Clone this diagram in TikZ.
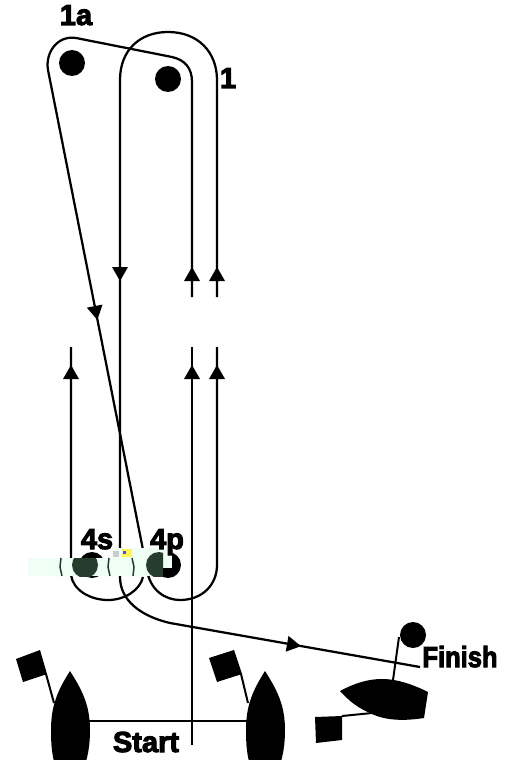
\documentclass[tikz,border=0pt]{standalone}
\usepackage{fontspec}
\setmainfont{Liberation Sans}
\newfontfamily\heavyfont[FakeBold=3.5]{Liberation Sans Bold}
\definecolor{panelmint}{HTML}{EFFFF6}
\definecolor{buoygreen}{HTML}{263D2D}
\tikzset{
	course/.style={line width=0.45mm, black},
	rig/.style={line width=0.4mm, black},
	buoy/.style={circle, fill=black, inner sep=0pt, minimum size=0.52cm},
	tag/.style={font=\fontsize{16.5}{16.5}\heavyfont, inner sep=0pt, text=black, anchor=base}
}
\begin{document}
\begin{tikzpicture}[x=0.02cm, y=-0.02cm]
				\useasboundingbox (0,0) rectangle (514,760);
				% buoys
				\node[buoy] (buoyA) at (72,63) {};
				\node[buoy] (buoyB) at (168,79) {};
				\node[buoy] (buoyS) at (92,565) {};
				\node[buoy] (buoyP) at (168,565) {};
				\node[buoy] (buoyF) at (413,635) {};
				% legs of the course
				\coordinate (finishEnd) at (420,667);
				\draw[course] (217,297) -- (217,80) .. controls (217,52) and (198,32) .. (168,32) .. controls (140,32) and (120,50) .. (120,80) -- (120,577) .. controls (120,600) and (140,616) .. (170,623) -- (finishEnd);
				\draw[course] (192,297) -- (192,82) .. controls (192,68) and (185,60) .. (172,57) -- (76,38) .. controls (58,35) and (45,52) .. (48,70) -- (147,570) .. controls (150,590) and (165,600) .. (180,600) .. controls (202,600) and (217,585) .. (217,565) -- (217,347);
				\draw[course] (71,347) -- (71,575) .. controls (73,590) and (90,600) .. (108,600) .. controls (125,600) and (140,590) .. (143,577);
				\draw[course] (192,347) -- (192,745);
				% arrows
				\foreach \px/\py/\rot in {192/274/0, 217/274/0, 71/372/0, 192/372/0, 217/372/0, 120/274/180, 96/313/191, 294/645/-100} {
					\fill[rotate around={\rot:(\px,\py)}] (\px,\py-7) -- (\px+8,\py+7) -- (\px-8,\py+7) -- cycle;
				}
				% strip over the marks
				\fill[panelmint] (28,558) rectangle (172,576);
				\fill[panelmint] (112,548) rectangle (172,558);
				\begin{scope}
					\clip (28,558) rectangle (172,576);
					\fill[buoygreen] (85,565) circle (13);
				\end{scope}
				\begin{scope}
					\clip (140,548) rectangle (163,576);
					\fill[buoygreen] (159,565) circle (13);
				\end{scope}
				\begin{scope}
					\clip (163,568) rectangle (172,576);
					\fill[black] (168,565) circle (13);
				\end{scope}
				\draw[buoygreen, line width=0.3mm] (61,558) -- (60,567) -- (62,576) (109,558) -- (108,567) -- (110,576) (132,558) -- (134,567) -- (133,576);
				\fill[gray!40] (113,551) rectangle (119,557);
				\fill[yellow!70] (122,549) rectangle (132,557);
				\fill[blue!70] (123,551) rectangle (126,554);
				% start boats
				\begin{scope}
					\coordinate (startL) at (88,721);
					\coordinate (startR) at (248,721);
					\draw[rig] (startL) -- (startR);
					\fill (70,671) .. controls (82,690) and (90,705) .. (90,730) .. controls (90,745) and (88,755) .. (85,765) -- (55,765) .. controls (52,755) and (51,745) .. (51,730) .. controls (51,705) and (58,690) .. (70,671) -- cycle;
					\fill (265,671) .. controls (277,690) and (285,705) .. (285,730) .. controls (285,745) and (283,755) .. (280,765) -- (250,765) .. controls (247,755) and (246,745) .. (246,730) .. controls (246,705) and (253,690) .. (265,671) -- cycle;
					\fill (16,659) -- (40,650) -- (47,674) -- (23,682) -- cycle;
					\draw[rig] (46,674) -- (54,703);
					\fill (209,658) -- (234,650) -- (242,674) -- (217,682) -- cycle;
					\draw[rig] (241,674) -- (248,703);
				\end{scope}
				% finish boat
				\begin{scope}
					\fill (340,691) .. controls (355,683) and (368,679) .. (382,679) .. controls (398,679) and (414,685) .. (428,692) -- (424,718) .. controls (405,721) and (385,721) .. (370,713) .. controls (358,708) and (349,701) .. (340,691) -- cycle;
					\draw[rig] (393,680) -- (399,637);
					\draw[rig] (342,716) -- (372,713);
					\fill (315,717) -- (342,716) -- (342,740) -- (316,743) -- cycle;
				\end{scope}
				% labels
				\node[tag] (lblOneA) at (76,25) {1a};
				\node[tag] (lblOne) at (228,88) {1};
				\node[tag] (lblFourS) at (97,549) {4s};
				\node[tag] (lblFourP) at (167,549) {4p};
				\node[tag] (lblStart) at (146,752) {Start};
				\node[tag] (lblFinish) at (460,667) {\scalebox{0.88}[1]{Finish}};
\end{tikzpicture}
\end{document}
